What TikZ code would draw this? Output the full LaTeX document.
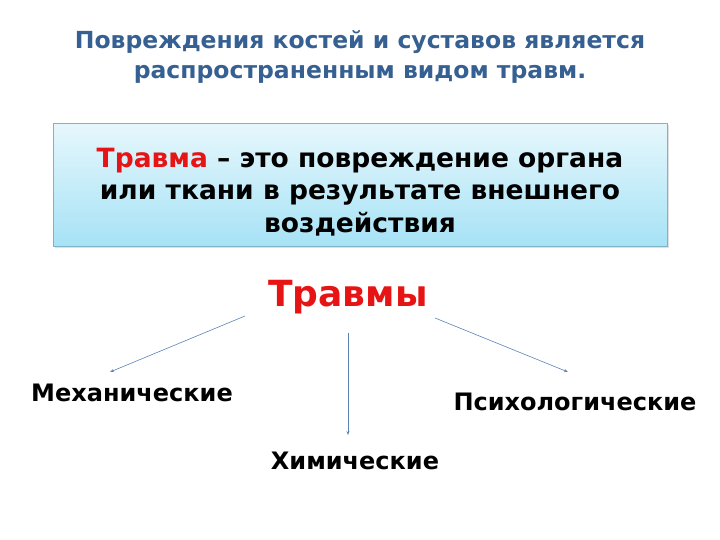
\documentclass[tikz,border=0pt]{standalone}
\usepackage{fontspec}
\setmainfont{DejaVu Sans}
\usetikzlibrary{positioning,shadows,arrows.meta}
\definecolor{titleblue}{RGB}{54,96,146}
\definecolor{boxtop}{RGB}{230,247,252}
\definecolor{boxbot}{RGB}{166,226,246}
\definecolor{boxline}{RGB}{128,178,200}
\definecolor{arrowblue}{RGB}{90,130,180}
\definecolor{travred}{RGB}{230,20,20}
\begin{document}
\begin{tikzpicture}[x=1pt,y=1pt,
    title text/.style={font=\bfseries\fontsize{23.5}{30}\selectfont,text=titleblue,align=center},
    def box/.style={draw=boxline,top color=boxtop,bottom color=boxbot,minimum width=614,minimum height=123,
        drop shadow={shadow xshift=1.5pt,shadow yshift=-2pt,opacity=0.25}},
    def text/.style={font=\bfseries\fontsize{26.5}{32.5}\selectfont,align=center},
    kind/.style={font=\bfseries\fontsize{24}{28}\selectfont},
    branch/.style={draw=arrowblue,line width=0.6pt,-{Stealth[length=4pt,width=3pt]}}]
    \useasboundingbox (0,0) rectangle (720,540);
    \node[title text] (title) at (360,483) {Повреждения костей и суставов является\\распространенным видом травм.};
    \node[def box] (def) at (360,355) {};
    \node[def text] (deftext) at (360,348) {\textcolor{travred}{Травма} – это повреждение органа\\или ткани в результате внешнего\\воздействия};
    \node[font=\bfseries\fontsize{36}{40}\selectfont,text=travred] (trauma) at (348,243) {Травмы};
    \node[kind] (mech) at (132,147) {Механические};
    \node[kind] (chem) at (355,79) {Химические};
    \node[kind] (psych) at (575,138) {Психологические};
    \coordinate (a1) at (245,224);
    \coordinate (a2) at (348,207);
    \coordinate (a3) at (435,222);
    \coordinate (e1) at (110,168);
    \coordinate (e2) at (348,105);
    \coordinate (e3) at (568,168);
    \draw[branch] (a1) -- (e1);
    \draw[branch] (a2) -- (e2);
    \draw[branch] (a3) -- (e3);
\end{tikzpicture}
\end{document}
